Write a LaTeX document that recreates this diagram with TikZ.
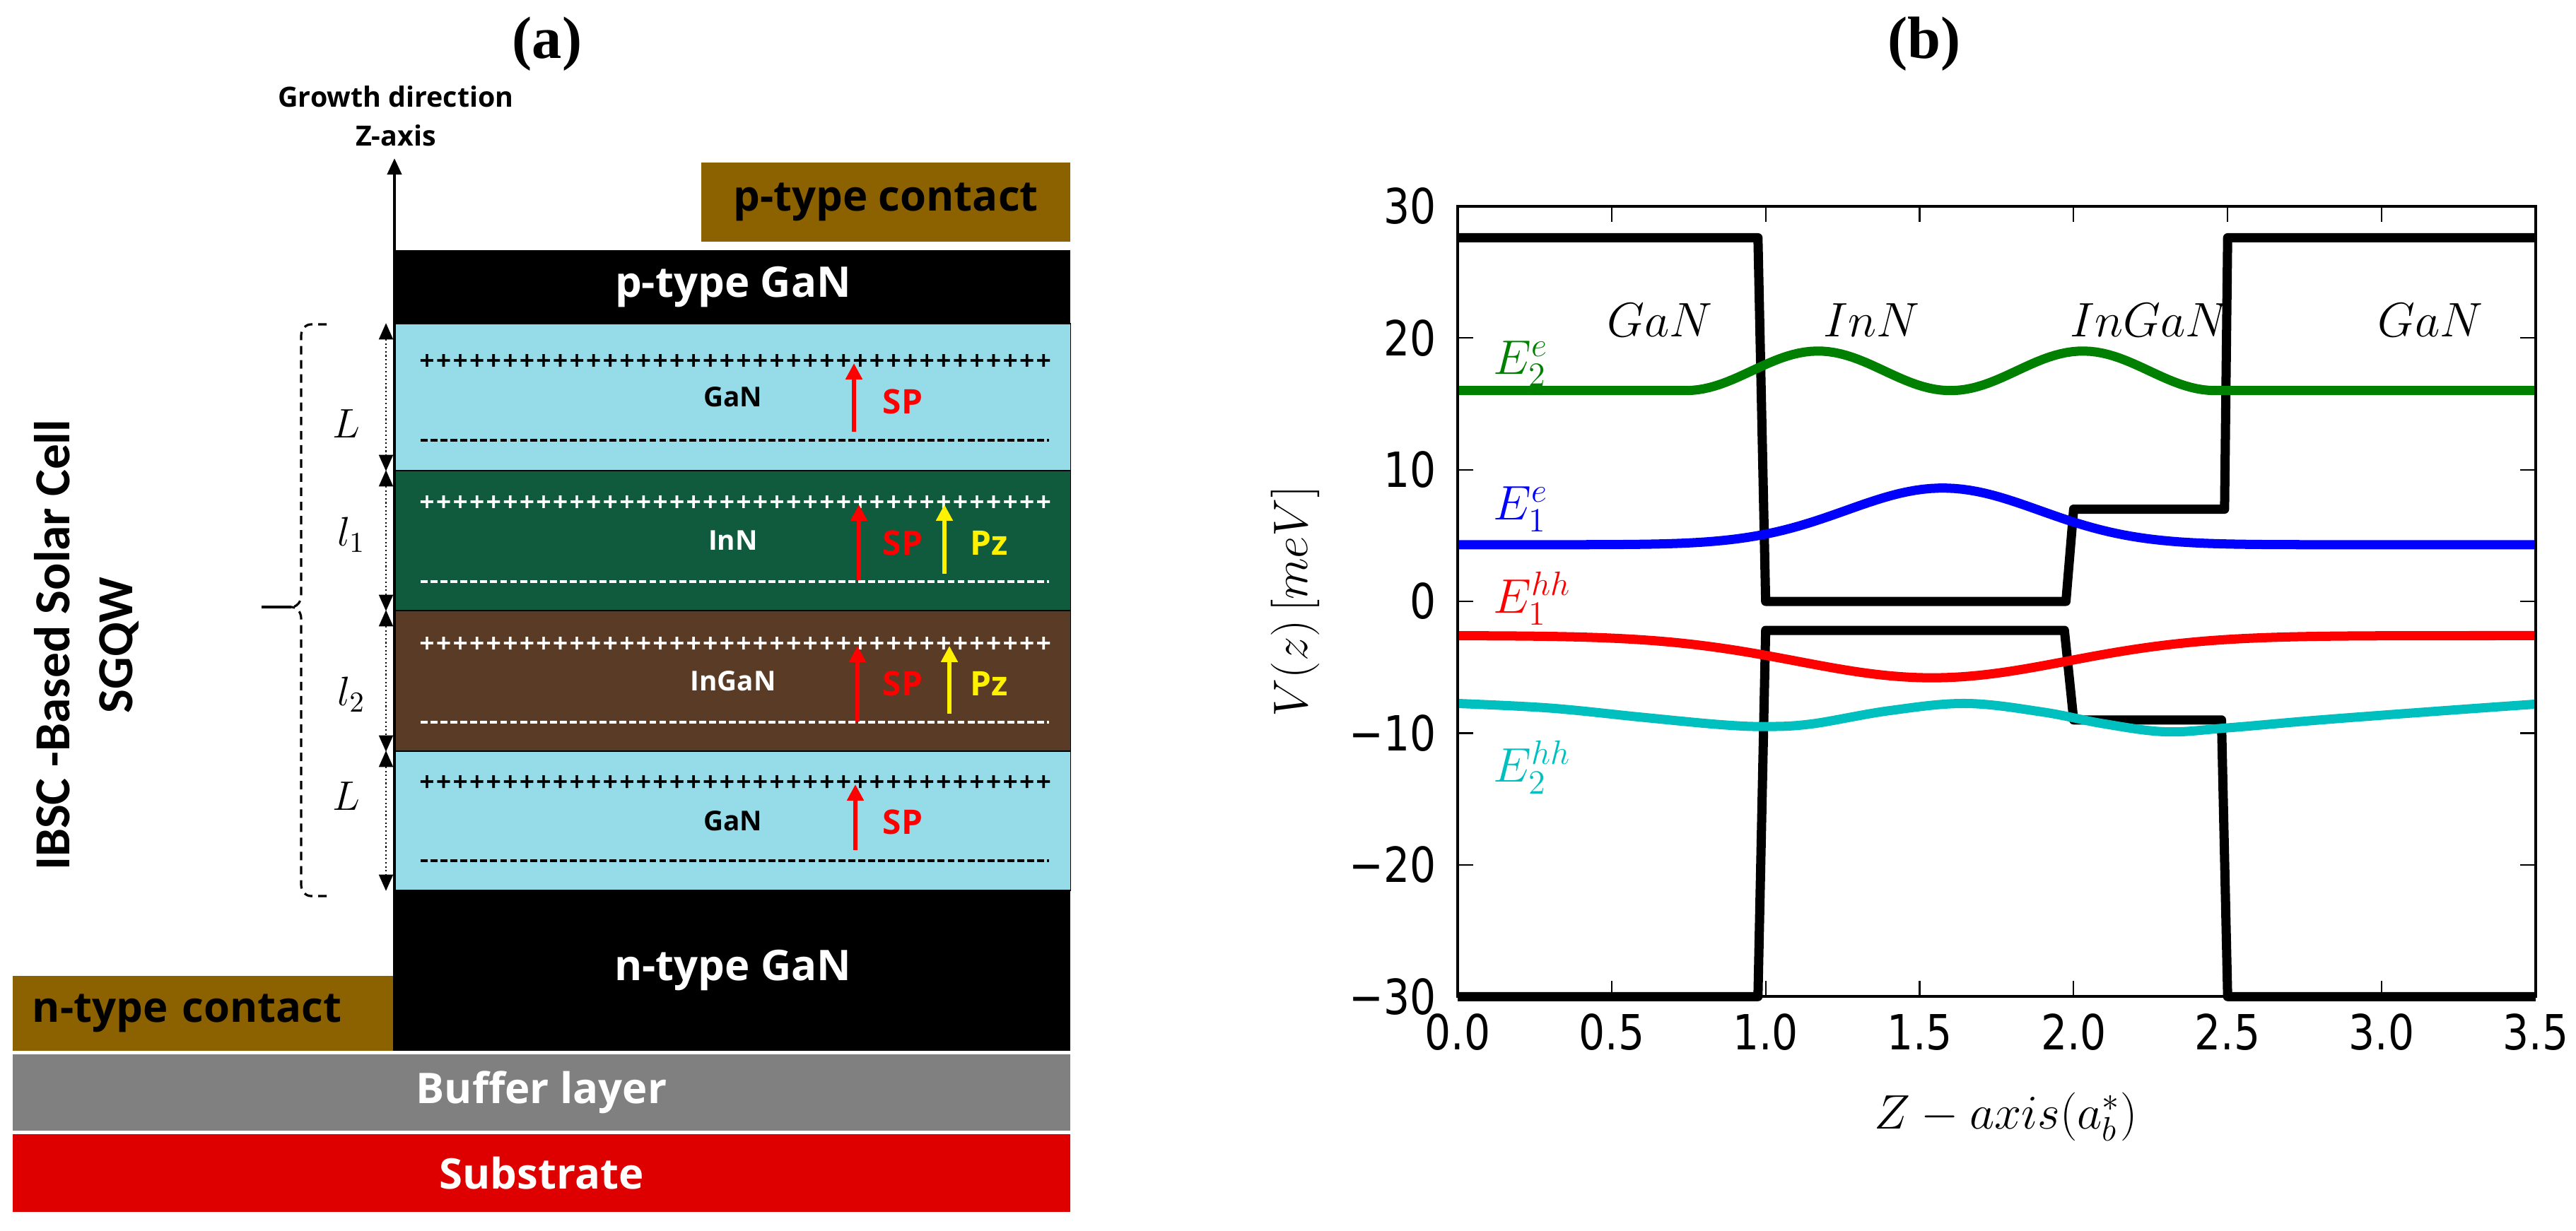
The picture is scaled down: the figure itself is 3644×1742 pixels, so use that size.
\documentclass[tikz,border=0pt]{standalone}
\usepackage{fix-cm}
\usepackage{fontspec}
\setmainfont{Liberation Serif}
\newfontfamily\boxfont{Open Sans}
\newfontfamily\sidefont{Carlito}
\newfontfamily\plusfont[FakeBold=1.2]{DejaVu Sans}
\newfontfamily\tickfont[FakeStretch=0.85]{DejaVu Sans}
\usetikzlibrary{arrows.meta}
\definecolor{contact}{RGB}{140,97,0}
\definecolor{ganblue}{RGB}{150,220,232}
\definecolor{inngreen}{RGB}{16,90,62}
\definecolor{inganbrown}{RGB}{90,60,38}
\definecolor{buffergray}{RGB}{128,128,128}
\definecolor{substred}{RGB}{222,0,0}
\definecolor{mplgreen}{RGB}{0,128,0}
\definecolor{mplcyan}{RGB}{0,191,191}
\newcommand{\pten}{++++++++++}
\newcommand{\pluses}{\pten\pten\pten++++++++}
\begin{document}
\begin{tikzpicture}[x=0.01cm,y=-0.01cm]
\tikzstyle{panel}=[inner sep=0pt,font=\bfseries\fontsize{24}{28}\selectfont]
\tikzstyle{layer}=[inner sep=0pt,minimum width=9.54cm,font=\boxfont\bfseries\fontsize{17}{20}\selectfont]
\tikzstyle{well}=[layer,draw=black,line width=0.4pt,font=\boxfont\bfseries\fontsize{11}{13}\selectfont]
\tikzstyle{small}=[inner sep=0pt,font=\boxfont\bfseries\fontsize{11.2}{13}\selectfont]
\tikzstyle{plusrow}=[inner sep=0pt,font=\plusfont\bfseries\fontsize{8}{9}\selectfont]
\tikzstyle{minusline}=[line width=0.9pt,dash pattern=on 2.8pt off 1.2pt]
\tikzstyle{polarrow}=[line width=1.5pt,-{Triangle[length=6.5pt,width=6.5pt]}]
\tikzstyle{pollabel}=[inner sep=0pt,font=\boxfont\bfseries\fontsize{13.6}{15}\selectfont]
\tikzstyle{dimarrow}=[densely dotted,line width=0.6pt,{Triangle[length=6.6pt,width=5.7pt]}-{Triangle[length=6.6pt,width=5.7pt]}]
\tikzstyle{dimlab}=[inner sep=0pt,font=\fontsize{16.6}{19}\selectfont]
\tikzstyle{growth}=[line width=1.1pt,-{Triangle[length=6.5pt,width=5.7pt]}]
\tikzstyle{brace}=[line width=0.9pt,dash pattern=on 3.4pt off 2.3pt]
\tikzstyle{side}=[inner sep=0pt,align=center,font=\sidefont\bfseries\fontsize{20.3}{25.3}\selectfont]
\tikzstyle{frame}=[line width=1.1pt]
\tikzstyle{tick}=[line width=0.6pt]
\tikzstyle{ticklab}=[inner sep=0pt,font=\tickfont\fontsize{19.5}{22}\selectfont]
\tikzstyle{mathlab}=[inner sep=0pt,font=\fontsize{19.5}{22}\selectfont]
\tikzstyle{band}=[line width=3.7pt,line join=round]
\tikzstyle{level}=[line width=3.7pt,line join=round]
\useasboundingbox (0,0) rectangle (3644,1742);

\draw (774,62) node (pa) [panel] {(a)};
\draw (2722,62) node (pb) [panel] {(b)};

\draw (1253,286) node (pcon) [layer,fill=contact,minimum width=5.22cm,minimum height=1.12cm] {p-type contact};
\draw (1037,406) node (pgan) [layer,fill=black,text=white,minimum height=1.04cm] {p-type GaN};
\draw (1037,562) node (gan1) [well,fill=ganblue,minimum height=2.08cm] {GaN};
\draw (1037,765) node (inn) [well,fill=inngreen,text=white,minimum height=1.98cm] {InN};
\draw (1037,963.5) node (ingan) [well,fill=inganbrown,text=white,minimum height=1.99cm] {InGaN};
\draw (1037,1161.5) node (gan2) [well,fill=ganblue,minimum height=1.97cm] {GaN};
\draw (1037,1373.5) node (ngan) [layer,fill=black,text=white,minimum height=2.27cm] {n-type GaN};
\draw (287,1434) node (ncon) [layer,fill=contact,minimum width=5.38cm,minimum height=1.06cm,text width=4.82cm,inner xsep=0.28cm,align=left] {n-type contact};
\draw (766,1546) node (buffer) [layer,fill=buffergray,text=white,minimum width=14.96cm,minimum height=1.08cm] {Buffer layer};
\draw (766,1660) node (subst) [layer,fill=substred,text=white,minimum width=14.96cm,minimum height=1.10cm] {Substrate};

\coordinate (zbot) at (558,1487);
\coordinate (ztop) at (558,224);
\draw [growth] (zbot) -- (ztop);
\draw (560,137) node (grow) [small] {Growth direction};
\draw (560,192) node (zax) [small] {Z-axis};

\draw (1040,510) node (plus1) [plusrow] {\pluses};
\draw (1040,710) node (plus2) [plusrow,text=white] {\pluses};
\draw (1040,910) node (plus3) [plusrow,text=white] {\pluses};
\draw (1040,1106) node (plus4) [plusrow] {\pluses};
\draw [minusline] (595,623) -- (1484,623);
\draw [minusline,white] (595,823) -- (1484,823);
\draw [minusline,white] (595,1022) -- (1484,1022);
\draw [minusline] (595,1218) -- (1484,1218);

\draw [polarrow,red] (1208,611) -- (1208,514);
\draw (1277,568) node (sp1) [pollabel,text=red] {SP};
\draw [polarrow,red] (1215,821) -- (1215,714);
\draw (1277,768) node (sp2) [pollabel,text=red] {SP};
\draw [polarrow,yellow] (1336,812) -- (1336,714);
\draw (1399,768) node (pz2) [pollabel,text=yellow] {Pz};
\draw [polarrow,red] (1213,1021) -- (1213,914);
\draw (1277,967) node (sp3) [pollabel,text=red] {SP};
\draw [polarrow,yellow] (1343,1010) -- (1343,914);
\draw (1399,967) node (pz3) [pollabel,text=yellow] {Pz};
\draw [polarrow,red] (1210,1203) -- (1210,1110);
\draw (1277,1163) node (sp4) [pollabel,text=red] {SP};

\draw [dimarrow] ([xshift=-0.13cm]gan1.north west) -- ([xshift=-0.13cm]gan1.south west);
\draw [dimarrow] ([xshift=-0.13cm]inn.north west) -- ([xshift=-0.13cm]inn.south west);
\draw [dimarrow] ([xshift=-0.13cm]ingan.north west) -- ([xshift=-0.13cm]ingan.south west);
\draw [dimarrow] ([xshift=-0.13cm]gan2.north west) -- ([xshift=-0.13cm]gan2.south west);
\draw (490,600) node (dl1) [dimlab] {$L$};
\draw (497,757) node (dl2) [dimlab] {$l_1$};
\draw (497,983) node (dl3) [dimlab] {$l_2$};
\draw (490,1127) node (dl4) [dimlab] {$L$};

\draw [brace] (462,459) -- (440,459) to[out=180,in=90] (426,475) -- (426,843) to[out=-90,in=0] (412,859);
\draw [brace] (462,1268) -- (440,1268) to[out=180,in=-90] (426,1252) -- (426,875) to[out=90,in=0] (412,859);
\draw [line width=0.9pt] (412,859) -- (370,859);
\draw (122,913) node (cell) [side,rotate=90] {IBSC -Based Solar Cell\\SGQW};

\begin{scope}[shift={(2062,851)},x=4.3543cm,y=0.18633cm]
\draw [band] (0,27.6) -- (0.975,27.6) -- (1,0) -- (1.975,0) -- (2,7) -- (2.49,7) -- (2.5,27.6) -- (3.5,27.6);
\draw [band] (0,-30) -- (0.975,-30) -- (1,-2.2) -- (1.97,-2.2) -- (2,-9) -- (2.48,-9) -- (2.5,-30) -- (3.5,-30);
\draw [level,mplgreen] (0,16) -- (0.74,16) -- plot[domain=0.74:2.46,samples=90] (\x,{16+3*pow(sin(180*(\x-0.74)/0.86),2)}) -- (3.5,16);
\draw [level,blue] plot[domain=0:3.5,samples=140] (\x,{4.3+4.3*exp(-(\x-1.575)*(\x-1.575)/0.197)});
\draw [level,red] plot[domain=0:3.5,samples=140] (\x,{-2.6-3.2*exp(-(\x-1.54)*(\x-1.54)/0.384)});
\draw [level,mplcyan] plot[smooth,tension=0.6] coordinates {(0,-7.75) (0.3,-8.1) (0.6,-8.8) (0.85,-9.35) (1.0,-9.5) (1.15,-9.3) (1.4,-8.3) (1.65,-7.75) (1.9,-8.4) (2.1,-9.3) (2.3,-9.9) (2.5,-9.6) (2.8,-9.0) (3.2,-8.3) (3.5,-7.8)};
\draw [frame] (0,-30) rectangle (3.5,30);
\foreach \t in {0.5,1,...,3}
  \draw [tick] (\t,-30) -- (\t,-28.8) (\t,30) -- (\t,28.8);
\foreach \v in {-20,-10,...,20}
  \draw [tick] (0,\v) -- (0.05,\v) (3.5,\v) -- (3.45,\v);
\foreach \t/\l [count=\i] in {0/0.0,0.5/0.5,1/1.0,1.5/1.5,2/2.0,2.5/2.5,3/3.0,3.5/3.5}
  \draw (\t,-32.7) node (xt\i) [ticklab] {\l};
\foreach \v/\l [count=\i] in {-30/−30,-20/−20,-10/−10,0/0,10/10,20/20,30/30}
  \draw (-0.069,\v) node (yt\i) [ticklab,anchor=east] {\l};
\draw (0.657,20.07) node (lgan1) [mathlab,anchor=base] {$GaN$};
\draw (1.343,20.07) node (linn) [mathlab,anchor=base] {$InN$};
\draw (2.246,20.07) node (lingan) [mathlab,anchor=base] {$InGaN$};
\draw (3.158,20.07) node (lgan2) [mathlab,anchor=base] {$GaN$};
\draw (0.115,17.23) node (e2e) [mathlab,anchor=base west,text=mplgreen] {$E_2^e$};
\draw (0.115,6.2) node (e1e) [mathlab,anchor=base west,text=blue] {$E_1^e$};
\draw (0.115,-0.9) node (e1h) [mathlab,anchor=base west,text=red] {$E_1^{hh}$};
\draw (0.115,-13.7) node (e2h) [mathlab,anchor=base west,text=mplcyan] {$E_2^{hh}$};
\draw (-0.528,0) node (ylab) [mathlab,rotate=90] {$V(z)\,[meV]$};
\draw (1.78,-39.1) node (xlab) [mathlab] {$Z-axis(a_b^*)$};
\end{scope}
\end{tikzpicture}
\end{document}
